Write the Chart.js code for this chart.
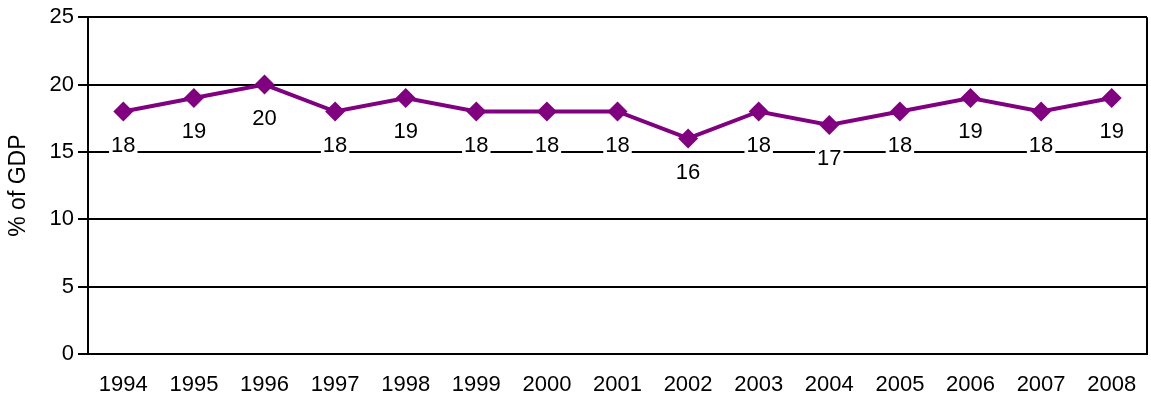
<!DOCTYPE html>
<html>
<head>
<meta charset="utf-8">
<script src="https://cdn.jsdelivr.net/npm/chart.js@4.4.1/dist/chart.umd.min.js"></script>
<style>
  body { margin: 0; background: #fff; }
  #wrap { width: 1151px; height: 400px; }
</style>
</head>
<body>
<div id="wrap"><canvas id="gdpChart" width="1151" height="400"></canvas></div>
<script>
// chart data
const years = ['1994', '1995', '1996', '1997', '1998', '1999', '2000', '2001',
  '2002', '2003', '2004', '2005', '2006', '2007', '2008'];
const gdpShare = [18, 19, 20, 18, 19, 18, 18, 18, 16, 18, 17, 18, 19, 18, 19];
const yTicks = [0, 5, 10, 15, 20, 25];

const FONT = '"Liberation Sans", Arial, sans-serif';

// value labels under each point, on a white box so the gridline is hidden
const valueLabels = {
  id: 'valueLabels',
  afterDatasetsDraw(chart) {
    const ctx = chart.ctx;
    const meta = chart.getDatasetMeta(0);
    ctx.save();
    ctx.font = '22px ' + FONT;
    ctx.textAlign = 'center';
    ctx.textBaseline = 'middle';
    meta.data.forEach((pt, i) => {
      const txt = String(gdpShare[i]);
      const w = ctx.measureText(txt).width;
      const y = pt.y + 33;
      ctx.fillStyle = '#fff';
      ctx.fillRect(pt.x - w / 2 - 2, y - 11, w + 4, 22);
      ctx.fillStyle = '#000';
      ctx.fillText(txt, pt.x, y + 1);
    });
    ctx.restore();
  }
};

// right-hand frame line of the plot area
const frame = {
  id: 'frame',
  beforeDatasetsDraw(chart) {
    const { ctx, chartArea } = chart;
    ctx.save();
    ctx.strokeStyle = '#000';
    ctx.lineWidth = 2;
    ctx.beginPath();
    ctx.moveTo(chartArea.right, chartArea.top);
    ctx.lineTo(chartArea.right, chartArea.bottom);
    ctx.stroke();
    ctx.restore();
  }
};

const ctx = document.getElementById('gdpChart').getContext('2d');
new Chart(ctx, {
  type: 'line',
  data: {
    labels: years,
    datasets: [{
      data: gdpShare,
      borderColor: '#800080',
      backgroundColor: '#800080',
      borderWidth: 4,
      pointStyle: 'rectRot',
      pointRadius: 10,
      pointHoverRadius: 10,
      pointBorderWidth: 0,
      tension: 0,
      fill: false,
      clip: false
    }]
  },
  options: {
    responsive: false,
    animation: false,
    events: [],
    layout: { autoPadding: false, padding: { top: 16, right: 4, left: 5, bottom: 0 } },
    plugins: {
      legend: { display: false },
      tooltip: { enabled: false }
    },
    scales: {
      x: {
        offset: true,
        grid: { display: false, drawTicks: false },
        border: { color: '#000', width: 2 },
        ticks: {
          color: '#000',
          font: { family: FONT, size: 22 },
          padding: 18,
          maxRotation: 0,
          autoSkip: false
        },
        afterFit(scale) {
          scale.height = 46;
          scale.paddingLeft = 0;
          scale.paddingRight = 0;
        }
      },
      y: {
        min: 0,
        max: 25,
        afterBuildTicks(scale) { scale.ticks = yTicks.map(v => ({ value: v })); },
        grid: { color: '#000', lineWidth: 2, tickLength: 10 },
        border: { color: '#000', width: 2 },
        ticks: {
          color: '#000',
          font: { family: FONT, size: 22 },
          padding: 4
        },
        title: {
          display: true,
          text: '% of GDP',
          color: '#000',
          font: { family: FONT, size: 23 },
          padding: 0
        },
        afterFit(scale) { scale.width = 83; }
      }
    }
  },
  plugins: [frame, valueLabels]
});
</script>
</body>
</html>
